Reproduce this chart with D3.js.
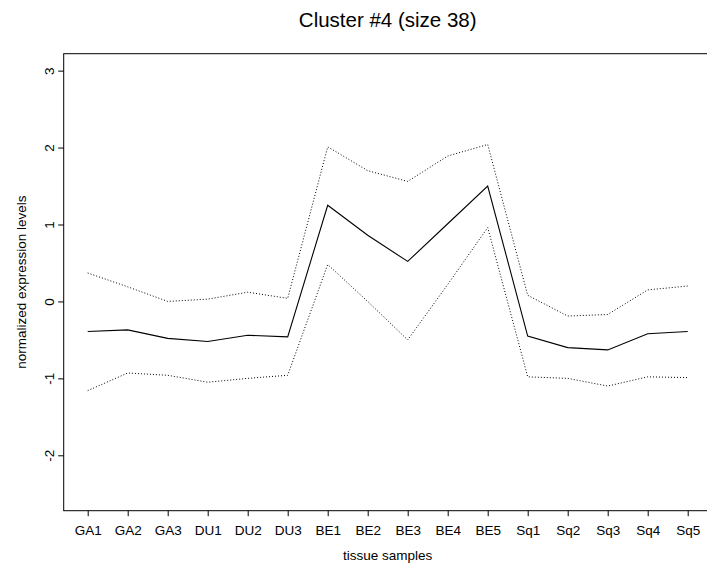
<!DOCTYPE html>
<html>
<head>
<meta charset="utf-8">
<script src="https://cdn.jsdelivr.net/npm/d3@7"></script>
<style>
  body { margin: 0; background: #fff; }
  text { font-family: "Liberation Sans", Arial, Helvetica, sans-serif; fill: #000; }
</style>
</head>
<body>
<div id="chart"></div>
<script>
// Data
var samples = ["GA1", "GA2", "GA3", "DU1", "DU2", "DU3", "BE1", "BE2", "BE3", "BE4", "BE5", "Sq1", "Sq2", "Sq3", "Sq4", "Sq5"];
var meanVals  = [-0.39, -0.37, -0.48, -0.52, -0.44, -0.46, 1.25, 0.86, 0.52, 1.01, 1.50, -0.45, -0.60, -0.63, -0.42, -0.39];
var upperVals = [0.37, 0.19, 0.00, 0.03, 0.12, 0.04, 2.01, 1.70, 1.56, 1.89, 2.04, 0.08, -0.19, -0.17, 0.15, 0.20];
var lowerVals = [-1.16, -0.93, -0.96, -1.05, -1.00, -0.96, 0.48, 0.00, -0.50, 0.22, 0.96, -0.98, -1.00, -1.10, -0.98, -0.99];
var yTicks = [-2, -1, 0, 1, 2, 3];
var title = "Cluster #4 (size 38)";

//Setup
var width = 707, height = 570;
var plot = { left: 63.7, right: 711.7, top: 53.7, bottom: 510.7 };

// R-style 4% padding around the data range
var x = d3.scaleLinear().domain([0.4, 16.6]).range([plot.left, plot.right]);
var y = d3.scaleLinear().domain([-2.72, 3.22]).range([plot.bottom, plot.top]);

var svg = d3.select("#chart")
    .append("svg")
    .attr("width", width)
    .attr("height", height);

// box
svg.append("rect")
    .attr("x", plot.left)
    .attr("y", plot.top)
    .attr("width", plot.right - plot.left)
    .attr("height", plot.bottom - plot.top)
    .attr("fill", "none")
    .attr("stroke", "#000")
    .attr("stroke-width", 1);

// x axis
var xAxis = d3.axisBottom(x)
    .tickValues(d3.range(1, samples.length + 1))
    .tickFormat(function (d) { return samples[d - 1]; })
    .tickSize(5.5)
    .tickPadding(9);

var gx = svg.append("g")
    .attr("transform", "translate(0," + plot.bottom + ")")
    .call(xAxis);
gx.select(".domain").remove();
gx.selectAll("line").attr("stroke", "#000");
gx.selectAll("text")
    .style("font-size", "13.5px")
    .attr("fill", "#000");

// y axis, labels rotated like R's las=0
var yAxis = d3.axisLeft(y)
    .tickValues(yTicks)
    .tickSize(5.5)
    .tickFormat(function (d) { return d; });

var gy = svg.append("g")
    .attr("transform", "translate(" + plot.left + ",0)")
    .call(yAxis);
gy.select(".domain").remove();
gy.selectAll("line").attr("stroke", "#000");
gy.selectAll("text")
    .attr("x", null)
    .attr("dy", null)
    .attr("transform", "translate(-10,0) rotate(-90)")
    .attr("text-anchor", "middle")
    .style("font-size", "13.5px")
    .attr("fill", "#000");

// lines
var line = function (vals) {
    return d3.line()
        .x(function (d, i) { return x(i + 1); })
        .y(function (d) { return y(d); })(vals);
};

svg.append("path")
    .attr("d", line(upperVals))
    .attr("fill", "none")
    .attr("stroke", "#000")
    .attr("stroke-width", 1)
    .attr("stroke-dasharray", "1,2");

svg.append("path")
    .attr("d", line(lowerVals))
    .attr("fill", "none")
    .attr("stroke", "#000")
    .attr("stroke-width", 1)
    .attr("stroke-dasharray", "1,2");

svg.append("path")
    .attr("d", line(meanVals))
    .attr("fill", "none")
    .attr("stroke", "#000")
    .attr("stroke-width", 1.1);

// titles
svg.append("text")
    .attr("x", (plot.left + plot.right) / 2)
    .attr("y", 27.3)
    .attr("text-anchor", "middle")
    .style("font-size", "20.5px")
    .text(title);

svg.append("text")
    .attr("x", (plot.left + plot.right) / 2)
    .attr("y", 559.5)
    .attr("text-anchor", "middle")
    .style("font-size", "13.5px")
    .text("tissue samples");

svg.append("text")
    .attr("transform", "translate(25.5," + (plot.top + plot.bottom) / 2 + ") rotate(-90)")
    .attr("text-anchor", "middle")
    .style("font-size", "13.5px")
    .text("normalized expression levels");
</script>
</body>
</html>
